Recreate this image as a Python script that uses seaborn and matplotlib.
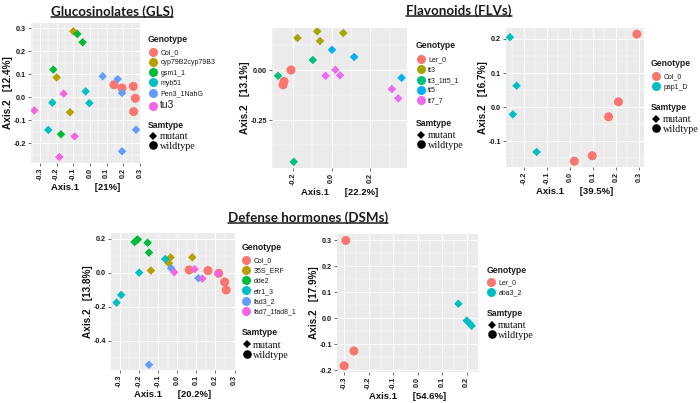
import numpy as np
import pandas as pd
import matplotlib
matplotlib.use("Agg")
import matplotlib.pyplot as plt
import seaborn as sns
from matplotlib.lines import Line2D
from matplotlib.ticker import FixedLocator, FormatStrFormatter

sns.set_theme(style="white")
plt.rcParams["font.family"] = ["Liberation Sans", "DejaVu Sans"]
plt.rcParams["axes.unicode_minus"] = False

# ---------------- data ----------------
# Glucosinolates (GLS)
gls_order = ["Col_0", "cyp79B2cyp79B3", "gsm1_1", "myb51", "Pen3_1NahG", "tu3"]
gls_genotype = ["Col_0"] * 5 + ["cyp79B2cyp79B3"] * 3 + ["gsm1_1"] * 4 + ["myb51"] * 4 + ["Pen3_1NahG"] * 5 + ["tu3"] * 4
gls_axis1 = [0.144, 0.192, 0.260, 0.272, 0.262,
             -0.100, -0.200, -0.120,
             -0.076, -0.044, -0.220, -0.174,
             -0.026, -0.004, -0.226, -0.250,
             0.076, 0.166, 0.192, 0.276, 0.192,
             -0.158, -0.334, -0.092, -0.184]
gls_axis2 = [0.054, 0.040, 0.047, -0.005, -0.063,
             0.287, 0.086, -0.066,
             0.275, 0.239, 0.120, -0.162,
             0.025, -0.026, -0.024, -0.143,
             0.091, 0.079, 0.018, -0.142, -0.236,
             0.015, -0.058, -0.171, -0.261]

# Flavonoids (FLVs), Ler background
flv1_order = ["Ler_0", "tt3", "tt3_1tt5_1", "tt5", "tt7_7"]
flv1_genotype = ["Ler_0"] * 3 + ["tt3"] * 4 + ["tt3_1tt5_1"] * 3 + ["tt5"] * 3 + ["tt7_7"] * 5
flv1_axis1 = [-0.209, -0.245, -0.250,
              -0.176, -0.074, -0.060, 0.060,
              -0.276, -0.097, -0.195,
              0.002, 0.116, 0.360,
              -0.031, 0.019, 0.043, 0.310, 0.343]
flv1_axis2 = [0.002, -0.055, -0.072,
              0.162, 0.195, 0.147, 0.187,
              -0.027, 0.052, -0.457,
              0.103, 0.067, -0.037,
              -0.027, 0.003, -0.025, -0.093, -0.140]

# Flavonoids (FLVs), Col background
flv2_order = ["Col_0", "pap1_D"]
flv2_genotype = ["Col_0"] * 5 + ["pap1_D"] * 4
flv2_axis1 = [0.291, 0.211, 0.168, 0.097, 0.019, -0.261, -0.232, -0.248, -0.145]
flv2_axis2 = [0.214, 0.016, -0.028, -0.142, -0.158, 0.205, 0.063, -0.021, -0.131]

# Defense hormones (DSMs), Col background
dsm1_order = ["Col_0", "35S_ERF", "dde2", "etr1_3", "fad3_2", "fad7_1fad8_1"]
dsm1_genotype = ["Col_0"] * 5 + ["35S_ERF"] * 4 + ["dde2"] * 5 + ["etr1_3"] * 4 + ["fad3_2"] * 3 + ["fad7_1fad8_1"] * 4
dsm1_axis1 = [0.063, 0.161, 0.217, 0.248, 0.256,
              -0.137, -0.034, -0.043, 0.079,
              -0.222, -0.212, -0.205, -0.154, -0.147,
              -0.198, -0.292, -0.316, -0.062,
              -0.031, 0.111, -0.147,
              -0.015, 0.091, 0.132, 0.214]
dsm1_axis2 = [0.016, 0.012, -0.004, -0.055, -0.102,
              0.012, 0.090, 0.055, 0.090,
              0.180, 0.190, 0.195, 0.176, 0.118,
              0.000, -0.131, -0.176, 0.080,
              0.025, -0.033, -0.541,
              0.002, 0.020, -0.035, -0.004]

# Defense hormones (DSMs), Ler background
dsm2_order = ["Ler_0", "aba3_2"]
dsm2_genotype = ["Ler_0"] * 3 + ["aba3_2"] * 4
dsm2_axis1 = [-0.293, -0.260, -0.300, 0.166, 0.200, 0.211, 0.220]
dsm2_axis2 = [0.300, -0.126, -0.183, 0.056, -0.009, -0.019, -0.029]

wildtypes = ["Col_0", "Ler_0"]
samtype_order = ["mutant", "wildtype"]

# ---------------- figure ----------------
W, H = 700, 403
fig = plt.figure(figsize=(W / 100, H / 100), dpi=100)
fig.patch.set_facecolor("white")


def px_axes(l, t, r, b):
    return fig.add_axes([l / W, 1 - b / H, (r - l) / W, (b - t) / H])


def gg_colors(n):
    # ggplot2 default hue palette
    tables = {
        2: ["#F8766D", "#00BFC4"],
        5: ["#F8766D", "#A3A500", "#00BF7D", "#00B0F6", "#E76BF3"],
        6: ["#F8766D", "#B79F00", "#00BA38", "#00BFC4", "#619CFF", "#F564E3"],
    }
    return tables[n]


def make_df(genotype, a1, a2):
    df = pd.DataFrame({"Genotype": genotype, "Axis.1": a1, "Axis.2": a2})
    df["Samtype"] = np.where(df["Genotype"].isin(wildtypes), "wildtype", "mutant")
    return df


def draw_panel(box, df, order, xlim, ylim, xticks, yticks, xlab, ylab, yfmt="%.1f", xfmt="%.1f"):
    ax = px_axes(*box)
    pal = dict(zip(order, gg_colors(len(order))))
    sns.scatterplot(data=df, x="Axis.1", y="Axis.2", hue="Genotype", hue_order=order, palette=pal,
                    style="Samtype", markers={"mutant": "D", "wildtype": "o"},
                    size="Samtype", sizes={"mutant": 19, "wildtype": 42},
                    linewidth=0, alpha=1, legend=False, ax=ax, zorder=3)
    ax.set_facecolor("#EBEBEB")
    ax.set_xlim(*xlim)
    ax.set_ylim(*ylim)
    ax.xaxis.set_major_locator(FixedLocator(xticks))
    ax.yaxis.set_major_locator(FixedLocator(yticks))
    dx = xticks[1] - xticks[0]
    dy = yticks[1] - yticks[0]
    ax.xaxis.set_minor_locator(FixedLocator(np.arange(xticks[0] - dx / 2, xticks[-1] + dx, dx)))
    ax.yaxis.set_minor_locator(FixedLocator(np.arange(yticks[0] - dy / 2, yticks[-1] + dy, dy)))
    ax.xaxis.set_major_formatter(FormatStrFormatter(xfmt))
    ax.yaxis.set_major_formatter(FormatStrFormatter(yfmt))
    ax.grid(which="major", color="white", lw=0.7)
    ax.grid(which="minor", color="white", lw=0.35)
    ax.set_axisbelow(True)
    for s in ax.spines.values():
        s.set_visible(False)
    ax.tick_params(which="major", length=2, width=0.5, color="#333333", pad=1.5,
                   labelsize=5.2, labelcolor="#1a1a1a", bottom=True, left=True)
    ax.tick_params(which="minor", length=0)
    ax.tick_params(axis="x", labelrotation=90)
    for lab in ax.get_xticklabels() + ax.get_yticklabels():
        lab.set_fontweight("bold")
    ax.set_xlabel(xlab, fontsize=6.8, fontweight="bold", labelpad=2, color="#111111")
    ax.set_ylabel(ylab, fontsize=7.2, fontweight="bold", labelpad=0.5, color="#111111")
    return ax, pal


def add_legends(order, pal, x, y_gtitle, y_gfirst, y_stitle, y_sfirst, big_last=False):
    # Genotype block
    fig.text(x / W, 1 - y_gtitle / H, "Genotype", ha="left", va="center",
             fontsize=6.2, fontweight="bold", color="#1a1a1a")
    handles = [Line2D([], [], ls="", marker="o", markersize=6.5, markeredgewidth=0, color=pal[g]) for g in order]
    leg = fig.legend(handles, order, loc="upper left",
                     bbox_to_anchor=((x + 1.5) / W, 1 - (y_gfirst - 3.4) / H), frameon=False, fontsize=5,
                     labelspacing=0.46, handlelength=1.0, handletextpad=0.55,
                     borderpad=0, borderaxespad=0)
    for t in leg.get_texts():
        t.set_color("#1a1a1a")
    if big_last:
        leg.get_texts()[-1].set_fontsize(7.5)
    # Samtype block
    fig.text(x / W, 1 - y_stitle / H, "Samtype", ha="left", va="center",
             fontsize=6.2, fontweight="bold", color="#1a1a1a")
    sh = [Line2D([], [], ls="", marker="D", markersize=4.4, markeredgewidth=0, color="black"),
          Line2D([], [], ls="", marker="o", markersize=6.2, markeredgewidth=0, color="black")]
    leg2 = fig.legend(sh, samtype_order, loc="upper left",
                      bbox_to_anchor=((x + 2) / W, 1 - (y_sfirst - 4.8) / H), frameon=False,
                      prop={"family": "Liberation Serif", "size": 7.3},
                      labelspacing=0.05, handlelength=0.65, handletextpad=0.3,
                      borderpad=0, borderaxespad=0)
    for t in leg2.get_texts():
        t.set_color("#111111")
    return leg, leg2


gls_df = make_df(gls_genotype, gls_axis1, gls_axis2)
flv1_df = make_df(flv1_genotype, flv1_axis1, flv1_axis2)
flv2_df = make_df(flv2_genotype, flv2_axis1, flv2_axis2)
dsm1_df = make_df(dsm1_genotype, dsm1_axis1, dsm1_axis2)
dsm2_df = make_df(dsm2_genotype, dsm2_axis1, dsm2_axis2)

gap = "      "
ax1, p1 = draw_panel((31, 23, 141, 163), gls_df, gls_order, (-0.354, 0.306), (-0.287, 0.323),
                     [-0.3, -0.2, -0.1, 0.0, 0.1, 0.2, 0.3], [-0.2, -0.1, 0.0, 0.1, 0.2, 0.3],
                     "Axis.1" + gap + "[21%]", "Axis.2   [12.4%]")
ax2, p2 = draw_panel((272, 28, 407, 168), flv1_df, flv1_order, (-0.307, 0.388), (-0.488, 0.212),
                     [-0.2, 0.0, 0.2, 0.4], [-0.25, 0.0], "Axis.1" + gap + "[22.2%]", "Axis.2   [13.1%]",
                     yfmt="%.2f")
ax3, p3 = draw_panel((506, 28, 644, 167), flv2_df, flv2_order, (-0.278, 0.322), (-0.175, 0.232),
                     [-0.2, -0.1, 0.0, 0.1, 0.2, 0.3], [-0.1, 0.0, 0.1, 0.2],
                     "Axis.1" + gap + "[39.5%]", "Axis.2   [16.7%]")
ax4, p4 = draw_panel((111, 233, 235, 370), dsm1_df, dsm1_order, (-0.345, 0.302), (-0.572, 0.233),
                     [-0.3, -0.2, -0.1, 0.0, 0.1, 0.2, 0.3], [-0.4, -0.2, 0.0, 0.2],
                     "Axis.1" + gap + "[20.2%]", "Axis.2   [13.8%]")
ax5, p5 = draw_panel((337, 234, 478, 372), dsm2_df, dsm2_order, (-0.329, 0.246), (-0.207, 0.325),
                     [-0.3, -0.2, -0.1, 0.0, 0.1, 0.2], [-0.2, -0.1, 0.0, 0.1, 0.2, 0.3],
                     "Axis.1" + gap + "[54.6%]", "Axis.2   [17.9%]")

add_legends(gls_order, p1, 148, 40, 52.7, 125, 137, big_last=True)
add_legends(flv1_order, p2, 416, 46, 60, 123, 136)
add_legends(flv2_order, p3, 651, 64, 77, 108, 120)
add_legends(dsm1_order, p4, 241.5, 247.7, 260.7, 332.7, 345.7)
add_legends(dsm2_order, p5, 486.5, 270.7, 282.7, 313, 326)

# titles, underlined
titles = [("Glucosinolates (GLS)", 112, 12), ("Flavonoids (FLVs)", 459, 11),
          ("Defense hormones (DSMs)", 308, 218)]
title_objs = []
for txt, x, y in titles:
    t = fig.text(x / W, 1 - y / H, txt, ha="center", va="center", fontsize=9.6,
                 fontweight="bold", family=["Lato", "DejaVu Sans"], color="#1a1a1a")
    title_objs.append(t)

fig.canvas.draw()
renderer = fig.canvas.get_renderer()
for t in title_objs:
    bb = t.get_window_extent(renderer)
    yline = bb.y0 + 1.0
    fig.add_artist(Line2D([bb.x0 / W, bb.x1 / W], [yline / H, yline / H],
                          transform=fig.transFigure, color="#1a1a1a", lw=1.1))

fig.savefig("out.png", dpi=100, facecolor="white")
